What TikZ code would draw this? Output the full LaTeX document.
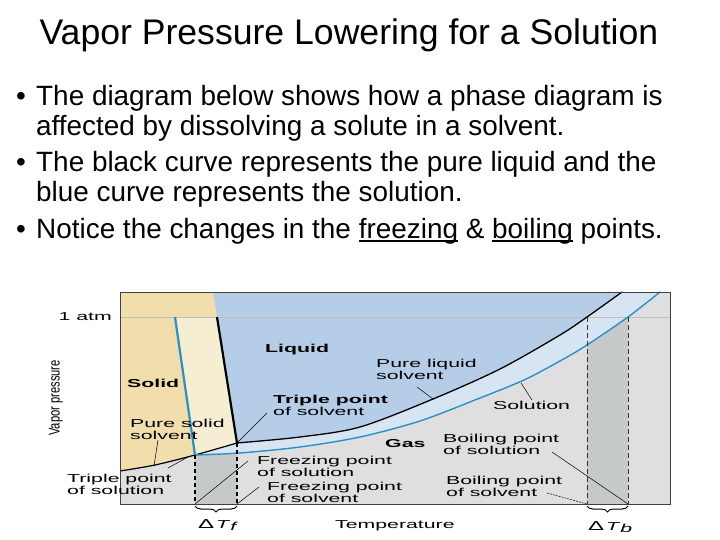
\documentclass[tikz,border=0pt]{standalone}
\usepackage{fontspec}
\setmainfont{Liberation Sans}
\newfontfamily\lab[FakeStretch=1.85]{Liberation Sans}
\newfontfamily\vpf[FakeStretch=0.72]{Liberation Sans}
\usetikzlibrary{decorations.pathreplacing}
\definecolor{soltan}{HTML}{F2DDAC}
\definecolor{cream}{HTML}{F6EED3}
\definecolor{liqblue}{HTML}{B6CDE8}
\definecolor{bandblue}{HTML}{D7E5F3}
\definecolor{gasgray}{HTML}{DFDFDF}
\definecolor{dgray}{HTML}{C5C9C9}
\definecolor{lineblue}{HTML}{2B90C2}
\newcommand\myul[1]{\setbox0\hbox{#1}\rlap{\rule[-3.5pt]{\wd0}{1.5pt}}\box0\relax}
\newcommand\labsz{\fontsize{11.5}{11.8}\selectfont}
\begin{document}
\begin{tikzpicture}[x=1pt,y=-1pt,
  lbl/.style={font=\lab\labsz, inner sep=0pt, align=left, anchor=base west},
  lblb/.style={font=\lab\bfseries\labsz, inner sep=0pt, align=left, anchor=base west},
  bul/.style={font=\fontsize{27.9}{30}\selectfont, inner sep=0pt, anchor=base west},
  leader/.style={line width=0.5pt},
  fusion/.style={line width=2.2pt},
  tdash/.style={line width=1.3pt, dash pattern=on 4pt off 3pt},
  bdash/.style={line width=0.9pt, dash pattern=on 5pt off 3pt, black!80},
  brc/.style={decorate, decoration={brace, mirror, amplitude=6pt}, line width=1pt}]
\useasboundingbox (0,0) rectangle (720,540);

% title and bullets
\node[font=\fontsize{35.6}{40}\selectfont, inner sep=0pt, anchor=base] (title) at (349,45) {Vapor Pressure Lowering for a Solution};
\node[bul] (d1) at (16,106) {•};
\node[bul] (b1) at (36,106) {The diagram below shows how a phase diagram is};
\node[bul] (b2) at (36,136) {affected by dissolving a solute in a solvent.};
\node[bul] (d2) at (16,172) {•};
\node[bul] (b3) at (36,172) {The black curve represents the pure liquid and the};
\node[bul] (b4) at (36,202) {blue curve represents the solution.};
\node[bul] (d3) at (16,238) {•};
\node[bul] (b5) at (36,238) {Notice the changes in the \myul{freezing} \& \myul{boiling} points.};

% regions
\fill[gasgray] (120,292) rectangle (670,504);
\fill[soltan] (120,292) -- (213,292) -- (237,443) -- plot[smooth] coordinates {(237,443) (195,455) (155,465) (120,471)} -- cycle;
\fill[cream] (175,317) -- (217,317) -- (237,443) -- (195,455) -- cycle;
\fill[liqblue] (213,292) -- (622,292) -- plot[smooth] coordinates {(622,292) (587,317) (560,335) (500,369) (433,399) (360,427) (300,437) (237,443)} -- cycle;
\fill[bandblue] (622,292) -- (660,292) -- plot[smooth] coordinates {(660,292) (628,317) (587,345) (560,361) (524,380) (480,398) (420,421) (360,437) (300,447) (240,453) (195,455)} -- (237,443) -- plot[smooth] coordinates {(237,443) (300,437) (360,427) (433,399) (500,369) (560,335) (587,317) (622,292)} -- cycle;
\begin{scope}
\clip plot[smooth] coordinates {(195,455) (240,453) (300,447) (360,437) (420,421) (480,398) (524,380) (560,361) (587,345) (628,317) (660,292)} -- (670,292) -- (670,504) -- (195,504) -- cycle;
\fill[dgray] (195,292) rectangle (237,504);
\fill[dgray] (587,317) rectangle (628,504);
\end{scope}
\draw[line width=0.5pt, black!25] (120,317) -- (670,317);

% curves
\draw[line width=1.2pt] plot[smooth] coordinates {(120,471) (155,465) (195,455) (237,443)};
\draw[line width=1.3pt] plot[smooth] coordinates {(237,443) (300,437) (360,427) (433,399) (500,369) (560,335) (587,317) (622,292)};
\draw[lineblue, line width=1.4pt] plot[smooth] coordinates {(195,455) (240,453) (300,447) (360,437) (420,421) (480,398) (524,380) (560,361) (587,345) (628,317) (660,292)};
\draw[fusion] (217,317) -- (237,443);
\draw[fusion, lineblue] (175,317) -- (195,455);

% key points
\coordinate (tps) at (237,443);
\coordinate (tpl) at (195,455);
\coordinate (fpl) at (195,504);
\coordinate (fps) at (237,504);
\coordinate (bps) at (587,504);
\coordinate (bpl) at (628,504);
\coordinate (bpstop) at (587,317);
\coordinate (bpltop) at (628,317);

\draw[tdash] (tpl) -- (fpl);
\draw[tdash] (tps) -- (fps);
\draw[bdash] (bpstop) -- (bps);
\draw[bdash] (bpltop) -- (bpl);

\draw[line width=0.6pt, black!75] (120,292) rectangle (670,504);

\draw[brc] (195,506) -- (237,506);
\draw[brc] (587,506) -- (628,506);

% labels (multi-line nodes: base is the last line)
\node[lbl, anchor=base east] (atm) at (112,320) {1 atm};
\node[lblb] (liq) at (265,352) {Liquid};
\node[lblb] (sol) at (127,387) {Solid};
\node[lblb] (gas) at (385,447) {Gas};
\node[lbl] (tpsL) at (273,415) {\textbf{Triple point}\\of solvent};
\node[lbl] (plsL) at (376,379) {Pure liquid\\solvent};
\node[lbl] (solnL) at (493,409) {Solution};
\node[lbl] (pssL) at (130,439) {Pure solid\\solvent};
\node[lbl] (tplL) at (67,494) {Triple point\\of solution};
\node[lbl] (fplL) at (257,476) {Freezing point\\of solution};
\node[lbl] (fpsL) at (267,502) {Freezing point\\of solvent};
\node[lbl] (bplL) at (443,454) {Boiling point\\of solution};
\node[lbl] (bpsL) at (446,496) {Boiling point\\of solvent};
\node[lbl] (dtf) at (198,528) {{\fontsize{13}{13}\selectfont Δ}\,\textit{T}\raisebox{-2.5pt}{\textit{f}}};
\node[lbl] (dtb) at (588,530) {{\fontsize{13}{13}\selectfont Δ}\,\textit{T}\raisebox{-2.5pt}{\textit{b}}};
\node[lbl] (temp) at (335,528) {Temperature};
\node[font=\vpf\fontsize{15.5}{15.5}\selectfont, inner sep=0pt, rotate=90] (vp) at (56,398) {Vapor pressure};

% leaders
\coordinate (l1a) at (417,387); \coordinate (l1b) at (433,399);
\coordinate (l2a) at (532,400); \coordinate (l2b) at (521,383);
\coordinate (l3a) at (267,413);
\coordinate (l4a) at (158,440); \coordinate (l4b) at (154,466);
\coordinate (l5a) at (168,468); \coordinate (l5b) at (188,457);
\coordinate (l6a) at (248,461);
\coordinate (l7a) at (259,487);
\coordinate (l8a) at (552,452);
\coordinate (l9a) at (547,493);
\draw[leader] (l1a) -- (l1b);
\draw[leader] (l2a) -- (l2b);
\draw[leader] (l3a) -- (tps);
\draw[leader] (l4a) -- (l4b);
\draw[leader] (l5a) -- (l5b);
\draw[leader] (l6a) -- (fpl);
\draw[leader] (l7a) -- (fps);
\draw[leader] (l8a) -- (bpl);
\draw[leader, dash pattern=on 2pt off 1pt] (l9a) -- (bps);
\end{tikzpicture}
\end{document}
